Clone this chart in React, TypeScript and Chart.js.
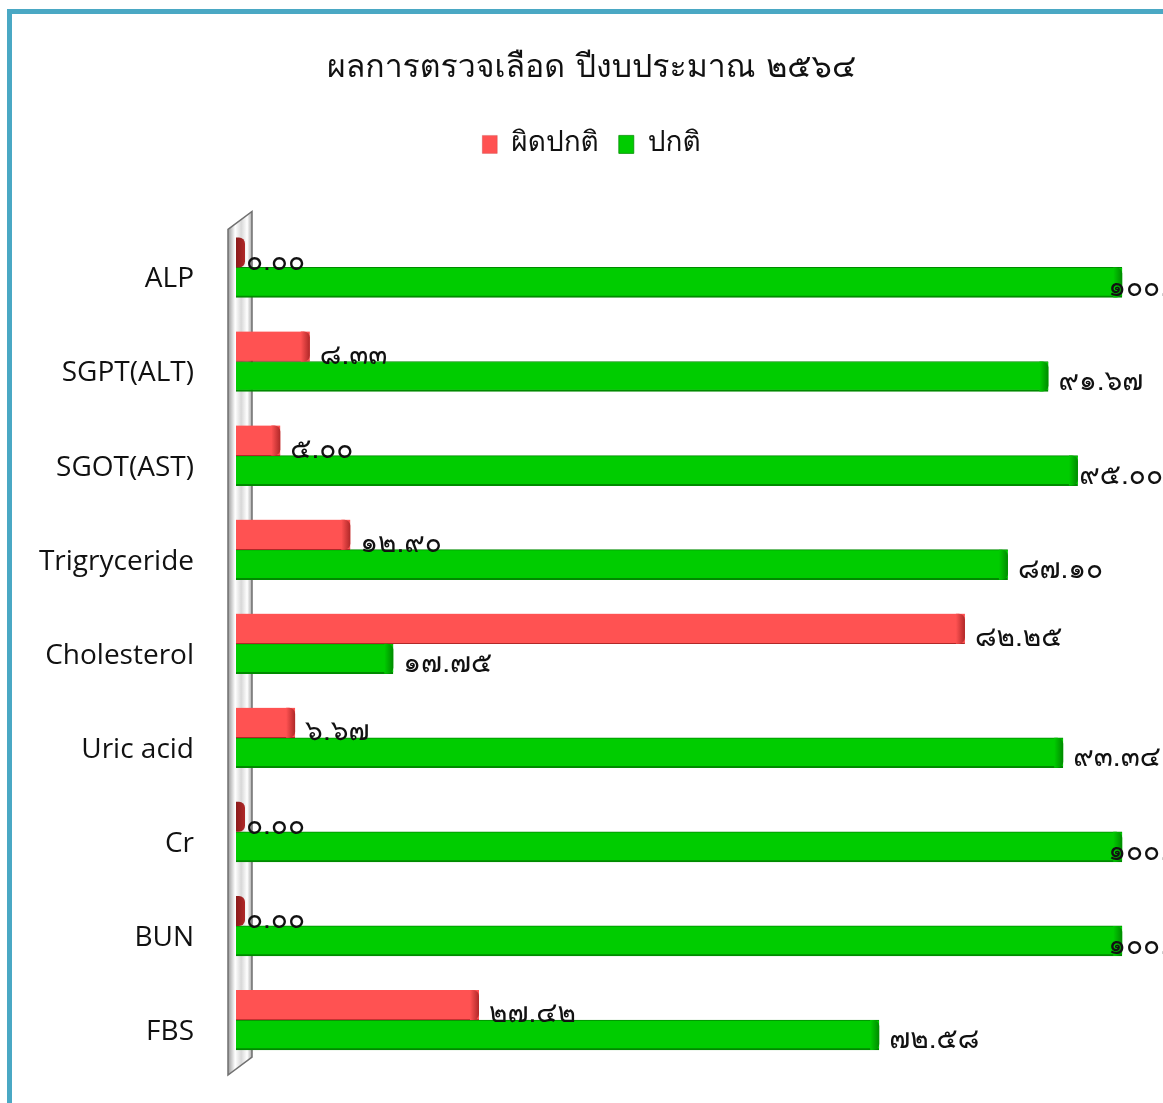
import React, { useEffect, useRef } from "react";
import { Chart, registerables } from "chart.js";

Chart.register(...registerables);

const titleText = "ผลการตรวจเลือด ปีงบประมาณ ๒๕๖๔";
const categories = ["ALP", "SGPT(ALT)", "SGOT(AST)", "Trigryceride", "Cholesterol", "Uric acid", "Cr", "BUN", "FBS"];
const abnormalLabel = "ผิดปกติ";
const normalLabel = "ปกติ";
const abnormalValues = [0, 8.33, 5.0, 12.9, 82.25, 6.67, 0, 0, 27.42];
const normalValues = [100, 91.67, 95.0, 87.1, 17.75, 93.34, 100, 100, 72.58];

const thaiDigits = ["๐", "๑", "๒", "๓", "๔", "๕", "๖", "๗", "๘", "๙"];
const toThai = (s: string) => s.replace(/[0-9]/g, (d) => thaiDigits[Number(d)]);

const RED = "#FF5252";
const RED_DARK = "#B02828";
const GREEN = "#00CC00";
const GREEN_DARK = "#008A00";
const THAI_FONT = "'Loma', 'Noto Sans Thai', 'Noto Sans', 'DejaVu Sans', sans-serif";

const legendMarginPlugin = {
  id: "legendMargin",
  beforeInit(chart: any) {
    const lg = chart.legend;
    if (!lg) return;
    const fit = lg.fit;
    lg.fit = function () {
      fit.call(lg);
      lg.height += 52;
    };
  },
};

const wallPlugin = {
  id: "wall",
  beforeDatasetsDraw(chart: any) {
    const ctx = chart.ctx;
    const x0 = 228, x1 = 252;
    const top = chart.chartArea.top - 9;
    const bottom = chart.chartArea.bottom + 8;
    const d = 18;
    ctx.save();
    const g = ctx.createLinearGradient(x0, 0, x1, 0);
    g.addColorStop(0, "#9a9a9a");
    g.addColorStop(0.3, "#ffffff");
    g.addColorStop(0.55, "#d8d8d8");
    g.addColorStop(0.8, "#ffffff");
    g.addColorStop(1, "#a8a8a8");
    ctx.beginPath();
    ctx.moveTo(x0, top + d);
    ctx.lineTo(x1, top);
    ctx.lineTo(x1, bottom - d);
    ctx.lineTo(x0, bottom);
    ctx.closePath();
    ctx.fillStyle = g;
    ctx.fill();
    ctx.strokeStyle = "#707070";
    ctx.lineWidth = 1.5;
    ctx.stroke();
    ctx.restore();
  },
};

const barDecorPlugin = {
  id: "barDecor",
  afterDatasetsDraw(chart: any) {
    const ctx = chart.ctx;
    const W = chart.width;
    ctx.save();
    chart.data.datasets.forEach((ds: any, di: number) => {
      const meta = chart.getDatasetMeta(di);
      const dark = di === 0 ? RED_DARK : GREEN_DARK;
      const base = di === 0 ? RED : GREEN;
      meta.data.forEach((bar: any, i: number) => {
        const v = ds.data[i];
        const h = bar.height;
        const top = bar.y - h / 2;
        const start = bar.base;
        const capStart = Math.max(start, bar.x - 9);
        const capEnd = capStart + 9;
        const g = ctx.createLinearGradient(capStart, 0, capEnd, 0);
        g.addColorStop(0, v === 0 ? (di === 0 ? "#8a1a1a" : GREEN_DARK) : base);
        g.addColorStop(1, dark);
        ctx.fillStyle = g;
        ctx.beginPath();
        (ctx as any).roundRect(capStart, top, capEnd - capStart, h, [0, 6, 6, 0]);
        ctx.fill();
        const txt = toThai(v.toFixed(2));
        ctx.font = `28px ${THAI_FONT}`;
        ctx.fillStyle = "#111";
        ctx.textBaseline = "middle";
        ctx.textAlign = "left";
        const w = ctx.measureText(txt).width;
        let x = bar.x + 10;
        if (x + w > W) x = Math.max(W - w, bar.x - 14);
        const yOff = di === 0 ? 11 : 7;
        ctx.fillText(txt, x, bar.y + yOff);
      });
    });
    ctx.restore();
  },
};

function ChartBox() {
  const ref = useRef<HTMLCanvasElement>(null);
  useEffect(() => {
    if (!ref.current) return;
    const chart = new Chart(ref.current, {
      type: "bar",
      data: {
        labels: categories,
        datasets: [
          {
            label: abnormalLabel,
            data: abnormalValues,
            backgroundColor: RED,
            borderColor: RED_DARK,
            borderWidth: { top: 0, bottom: 1, left: 0, right: 0 },
            borderSkipped: false,
            barThickness: 30,
          },
          {
            label: normalLabel,
            data: normalValues,
            backgroundColor: GREEN,
            borderColor: GREEN_DARK,
            borderWidth: { top: 1, bottom: 2, left: 0, right: 0 },
            borderSkipped: false,
            barThickness: 30,
          },
        ],
      },
      options: {
        indexAxis: "y",
        animation: false,
        responsive: false,
        categoryPercentage: 0.617,
        barPercentage: 1,
        layout: { padding: { left: 20, right: 0, top: 0, bottom: 36 } },
        scales: {
          x: { display: false, min: 0, max: 104.6 },
          y: {
            grid: { display: false, drawTicks: false },
            border: { display: false },
            afterFit: (s: any) => {
              s.width = 216;
              s.paddingTop = 0;
              s.paddingBottom = 0;
            },
            ticks: {
              padding: 42,
              labelOffset: 12,
              color: "#111",
              font: { family: "'Open Sans', 'Noto Sans', sans-serif", size: 28 },
            },
          },
        },
        plugins: {
          title: {
            display: true,
            text: titleText,
            color: "#111",
            font: { family: THAI_FONT, size: 32, weight: "normal" },
            padding: { top: 51, bottom: 21 },
          },
          legend: {
            display: true,
            labels: {
              boxWidth: 15,
              boxHeight: 18,
              color: "#111",
              font: { family: THAI_FONT, size: 28 },
              padding: 20,
            },
          },
          tooltip: { enabled: false },
        },
      },
      plugins: [legendMarginPlugin, wallPlugin, barDecorPlugin],
    } as any);
    return () => chart.destroy();
  }, []);
  return <canvas ref={ref} width={1163} height={1103} style={{ position: "absolute", left: 0, top: 0 }} />;
}

export default function App() {
  return (
    <div style={{ position: "fixed", left: 0, top: 0, width: 1163, height: 1103, overflow: "hidden", background: "#fff" }}>
      <div style={{ position: "absolute", left: 7, top: 9, width: 1200, height: 1200, borderLeft: "5px solid #4AA8C4", borderTop: "5px solid #4AA8C4" }} />
      <ChartBox />
    </div>
  );
}
